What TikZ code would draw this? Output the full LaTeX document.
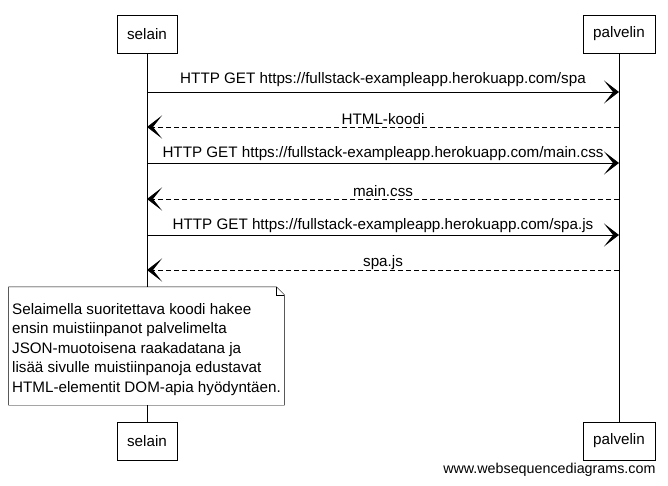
\documentclass[tikz,border=0pt]{standalone}
\usepackage{fontspec}
\setmainfont{Liberation Sans}
\usetikzlibrary{arrows.meta}

\begin{document}
\begin{tikzpicture}[
      x=1pt, y=-1pt,
      osapuoli/.style={draw, fill=white, font=\fontsize{15.2}{17}\selectfont,
                       minimum height=38pt, inner xsep=10pt},
      viesti/.style={-{Stealth[length=15pt,width=23pt,inset=9pt]}, line width=0.9pt},
      vastaus/.style={viesti, dash pattern=on 5pt off 3pt},
      nimi/.style={font=\fontsize{15.2}{17}\selectfont, midway, above, inner sep=1.5pt}
    ]
    \useasboundingbox (0,0) rectangle (668,486);
    \node[osapuoli] (sel1) at (147,34)  {selain};
    \node[osapuoli] (pal1) at (619,34)  {palvelin};
    \node[osapuoli] (sel2) at (147,441) {selain};
    \node[osapuoli] (pal2) at (619,441) {palvelin};

    \draw (sel1) -- (sel2);
    \draw (pal1) -- (pal2);

    \coordinate (s1) at (147,92);  \coordinate (p1) at (619,92);
    \coordinate (s2) at (147,127); \coordinate (p2) at (619,127);
    \coordinate (s3) at (147,163); \coordinate (p3) at (619,163);
    \coordinate (s4) at (147,199); \coordinate (p4) at (619,199);
    \coordinate (s5) at (147,235); \coordinate (p5) at (619,235);
    \coordinate (s6) at (147,270); \coordinate (p6) at (619,270);

    \draw[viesti]  (s1) -- (p1) node[nimi,yshift=3pt] {HTTP GET https://fullstack-exampleapp.herokuapp.com/spa};
    \draw[vastaus] (p2) -- (s2) node[nimi] {HTML-koodi};
    \draw[viesti]  (s3) -- (p3) node[nimi] {HTTP GET https://fullstack-exampleapp.herokuapp.com/main.css};
    \draw[vastaus] (p4) -- (s4) node[nimi] {main.css};
    \draw[viesti]  (s5) -- (p5) node[nimi] {HTTP GET https://fullstack-exampleapp.herokuapp.com/spa.js};
    \draw[vastaus] (p6) -- (s6) node[nimi,inner sep=0pt] {spa.js};

    % muistilappu
    \node[fill=white, minimum width=273pt, minimum height=118pt, align=left,
          font=\fontsize{15.2}{19.5}\selectfont] (muistio) at (146.5,346)
      {\rule{0pt}{18pt}Selaimella suoritettava koodi hakee\\
       ensin muistiinpanot palvelimelta\\
       JSON-muotoisena raakadatana ja\\
       lisää sivulle muistiinpanoja edustavat\\
       HTML-elementit DOM-apia hyödyntäen.};
    \draw (muistio.north west) -- ([xshift=-8pt]muistio.north east)
          -- ([yshift=-8pt]muistio.north east) -- (muistio.south east)
          -- (muistio.south west) -- cycle;
    \draw ([xshift=-8pt]muistio.north east) |- ([yshift=-8pt]muistio.north east);

    \node[font=\fontsize{14.3}{16}\selectfont, anchor=east] (leima) at (659,470) {www.websequencediagrams.com};
  \end{tikzpicture}
\end{document}
